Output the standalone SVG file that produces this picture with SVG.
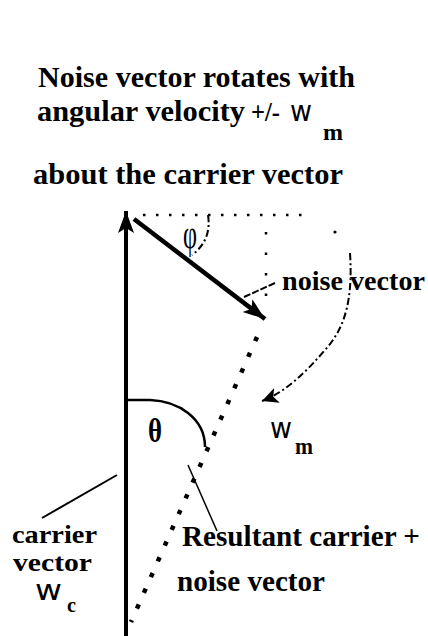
<svg xmlns="http://www.w3.org/2000/svg" width="428" height="636" viewBox="0 0 428 636">
  <style>
    .t { font-family: "Liberation Serif", "DejaVu Serif", serif; font-weight: bold; fill: #000; }
    .w { font-family: "DejaVu Sans", "Liberation Sans", sans-serif; font-weight: normal; fill: #000; }
    .g { font-family: "Liberation Serif", "DejaVu Serif", serif; font-weight: normal; fill: #000; }
    .vec { stroke: #000; stroke-width: 4; fill: none; }
    .dotted { stroke: #000; stroke-width: 2.5; fill: none; stroke-dasharray: 2.5 10.5; }
    .dashdot { stroke: #000; stroke-width: 2; fill: none; stroke-dasharray: 7 3 2 3; }
    .leader { stroke: #000; stroke-width: 2; fill: none; }
  </style>
  <defs>
    <marker id="arrow" markerUnits="userSpaceOnUse" markerWidth="26" markerHeight="20" refX="22" refY="10" orient="auto">
      <path d="M0,2 L22,10 L0,18 L5,10 z" fill="#000"/>
    </marker>
    <marker id="arrowSmall" markerUnits="userSpaceOnUse" markerWidth="20" markerHeight="18" refX="16" refY="9" orient="auto">
      <path d="M0,1 L16,9 L0,17 L4,9 z" fill="#000"/>
    </marker>
  </defs>
  <rect width="428" height="636" fill="#fff"/>

  <g id="title">
    <text class="t" x="38" y="87" font-size="30" textLength="317" lengthAdjust="spacingAndGlyphs">Noise vector rotates with</text>
    <text class="t" x="37" y="121" font-size="30" textLength="208" lengthAdjust="spacingAndGlyphs">angular velocity</text>
    <text class="t" x="251" y="121" font-size="27" textLength="29" lengthAdjust="spacingAndGlyphs">+/-</text>
    <text class="w" x="290" y="121" font-size="28" textLength="22" lengthAdjust="spacingAndGlyphs">w</text>
    <text class="t" x="323" y="140" font-size="24" textLength="20" lengthAdjust="spacingAndGlyphs">m</text>
    <text class="t" x="33" y="184" font-size="30" textLength="310" lengthAdjust="spacingAndGlyphs">about the carrier vector</text>
  </g>

  <g id="connectors">
    <line id="carrier-vector" class="vec" x1="126" y1="636" x2="126" y2="211" marker-end="url(#arrow)"/>
    <line id="noise-vector" class="vec" x1="134" y1="219" x2="265" y2="319" style="stroke-width:4.5" marker-end="url(#arrow)"/>
    <line class="dotted" x1="143" y1="215" x2="310" y2="215"/>
    <line class="dotted" x1="266" y1="232" x2="266" y2="296" style="stroke-dasharray:2.5 18"/>
    <circle cx="335" cy="232" r="1.6" fill="#000"/>
    <path class="dashdot" d="M208,215 Q212,240 192,255"/>
    <path class="dashdot" d="M350,253 C353,300 345,328 325,350 C306,372 286,392 262,401" marker-end="url(#arrowSmall)"/>
    <line id="resultant" x1="257" y1="337" x2="131" y2="622" stroke="#000" stroke-width="4.5" stroke-dasharray="4.5 12.7"/>
    <path d="M127,400 L150,400 C178,401 205,418 205,447" stroke="#000" stroke-width="2.5" fill="none"/>
    <line class="leader" x1="275" y1="283" x2="244" y2="297" style="stroke-dasharray:7 2"/>
    <line class="leader" x1="188" y1="465" x2="217" y2="531" style="stroke-width:1.5"/>
    <line class="leader" x1="117" y1="475" x2="42" y2="518"/>
  </g>

  <g id="phi-label">
    <text class="g" x="183" y="248" font-size="40" textLength="14" lengthAdjust="spacingAndGlyphs">φ</text>
  </g>
  <g id="theta-label">
    <text class="t" x="148" y="442" font-size="34" textLength="14" lengthAdjust="spacingAndGlyphs">θ</text>
  </g>
  <g id="noise-vector-label">
    <text class="t" x="282" y="290" font-size="28" textLength="143" lengthAdjust="spacingAndGlyphs">noise vector</text>
  </g>
  <g id="wm-label">
    <text class="w" x="270" y="438" font-size="28" textLength="22" lengthAdjust="spacingAndGlyphs">w</text>
    <text class="t" x="295" y="454" font-size="24" textLength="18" lengthAdjust="spacingAndGlyphs">m</text>
  </g>
  <g id="resultant-label">
    <text class="t" x="182" y="546" font-size="29" textLength="238" lengthAdjust="spacingAndGlyphs">Resultant carrier +</text>
    <text class="t" x="177" y="591" font-size="29" textLength="148" lengthAdjust="spacingAndGlyphs">noise vector</text>
  </g>
  <g id="carrier-label">
    <text class="t" x="12" y="543" font-size="25" textLength="85" lengthAdjust="spacingAndGlyphs">carrier</text>
    <text class="t" x="13" y="571" font-size="25" textLength="79" lengthAdjust="spacingAndGlyphs">vector</text>
    <text class="w" x="35" y="600" font-size="28" textLength="27" lengthAdjust="spacingAndGlyphs">w</text>
    <text class="t" x="67" y="612" font-size="22" textLength="9" lengthAdjust="spacingAndGlyphs">c</text>
  </g>
</svg>
